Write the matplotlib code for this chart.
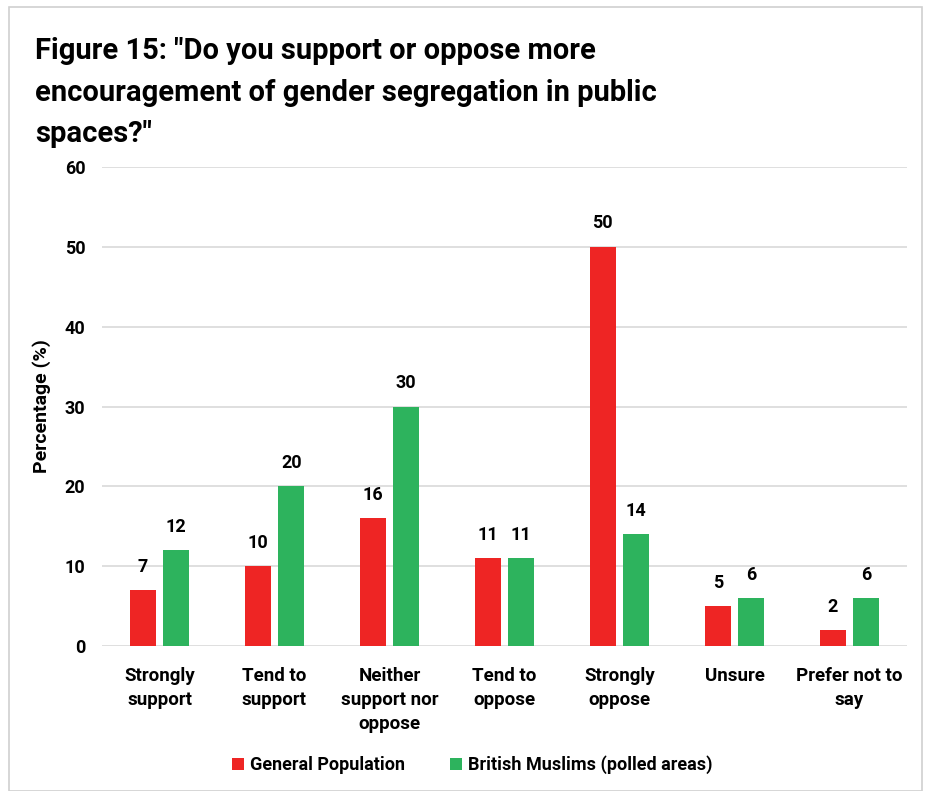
import matplotlib.pyplot as plt
import numpy as np
from matplotlib.patches import Rectangle

# data
categories = ['Strongly\nsupport', 'Tend to\nsupport', 'Neither\nsupport nor\noppose',
              'Tend to\noppose', 'Strongly\noppose', 'Unsure', 'Prefer not to\nsay']
general_pop = [7, 10, 16, 11, 50, 5, 2]
british_muslims = [12, 20, 30, 11, 14, 6, 6]
series_names = ['General Population', 'British Muslims (polled areas)']

red = '#ee2524'
green = '#2db35d'

plt.rcParams['font.family'] = ['Roboto', 'DejaVu Sans']
plt.rcParams['font.weight'] = 'bold'

fig = plt.figure(figsize=(9.31, 7.91), dpi=100)
fig.patches.append(Rectangle((9/931, 0), 913/931, 1 - 7/791, transform=fig.transFigure,
                             fill=False, edgecolor='#d0d0d0', linewidth=1.2))

ax = fig.add_axes([102/931, 1 - 646/791, 805/931, 479/791])

x = np.arange(len(categories))
w = 0.226
off = 0.146
b1 = ax.bar(x - off, general_pop, w, color=red, label=series_names[0])
b2 = ax.bar(x + off, british_muslims, w, color=green, label=series_names[1])

for bars in (b1, b2):
    for r in bars:
        ax.text(r.get_x() + r.get_width() / 2, r.get_height() + 1.8, f'{int(r.get_height())}',
                ha='center', va='bottom', fontsize=13, fontweight='bold')

ax.set_xlim(-0.5, len(categories) - 0.5)
ax.set_ylim(0, 60)
ax.set_yticks(range(0, 61, 10))
ax.yaxis.grid(True, color='#d9d9d9', linewidth=1.2)
ax.set_axisbelow(True)
for s in ax.spines.values():
    s.set_visible(False)
ax.tick_params(length=0)
ax.tick_params(axis='y', pad=12, labelsize=13)
ax.tick_params(axis='x', pad=15, labelsize=13.5)
ax.set_xticks(x)
ax.set_xticklabels(categories, linespacing=1.45, va='top')
ax.set_ylabel('Percentage (%)', fontsize=14, fontweight='bold', labelpad=10)

fig.text(35/931, 1 - 37/791, 'Figure 15: "Do you support or oppose more\nencouragement of gender segregation in public\nspaces?"',
         ha='left', va='top', fontsize=21, fontweight='bold', linespacing=1.62)

fig.legend(handles=[b1, b2], labels=series_names, loc='center', bbox_to_anchor=(472/931, 1 - 765/791),
           ncol=2, frameon=False, fontsize=13, handlelength=0.7, handleheight=0.7,
           columnspacing=2.5, handletextpad=0.3)

fig.savefig('out.png', dpi=100)
